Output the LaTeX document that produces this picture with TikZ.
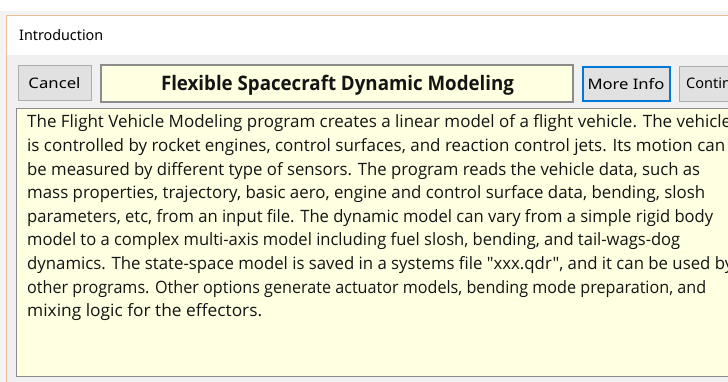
\documentclass[tikz,border=0pt]{standalone}
\usepackage{fontspec}
\usepackage{graphicx}
\setmainfont{Open Sans}
\newfontfamily\uifont{Noto Sans}
\newfontfamily\bodyfont{Open Sans}
\newcommand{\fitw}[2]{\resizebox{#1}{\height}{#2}}
\definecolor{outerbg}{HTML}{F3F3F3}
\definecolor{winbg}{HTML}{F0F0F0}
\definecolor{winborder}{HTML}{E9BE92}
\definecolor{btnfill}{HTML}{E1E1E1}
\definecolor{btnborder}{HTML}{ADADAD}
\definecolor{focusblue}{HTML}{0078D7}
\definecolor{note}{HTML}{FFFFE1}
\definecolor{boxborder}{HTML}{8C8C8C}
\definecolor{txt}{HTML}{141414}
\tikzset{
  btn/.style={draw=btnborder, fill=btnfill, line width=1pt, inner sep=0pt,
    minimum height=35pt, font=\uifont\fontsize{14.5}{17}\selectfont, text=black},
  notebox/.style={draw=boxborder, fill=note, line width=1.2pt, inner sep=0pt},
  bodyline/.style={anchor=base west, inner sep=0pt,
    font=\bodyfont\fontsize{17}{20}\selectfont, text=txt},
}
\begin{document}
\begin{tikzpicture}[x=1pt,y=-1pt]
\useasboundingbox (0,0) rectangle (728,382);
\clip (0,0) rectangle (728,382);
% outer background and window
\fill[outerbg] (0,0) rectangle (728,382);
\fill[white] (0,0) rectangle (728,11);
\fill[winbg] (6,15) rectangle (728,382);
\fill[white] (7,16) rectangle (728,55);
\draw[winborder, line width=1.6pt] (6.5,382) -- (6.5,15.5) -- (728,15.5);
% title bar
\node[anchor=base west, inner sep=0pt, font=\uifont\fontsize{14.5}{17}\selectfont] (intro) at (19,41) {\fitw{84pt}{Introduction}};
% buttons row
\node[btn, minimum width=73pt] (cancel) at (54.5,83.5) {\fitw{52pt}{Cancel}};
\node[notebox, minimum width=472pt, minimum height=37pt] (titlebox) at (337,83.5) {};
\node[anchor=base, inner sep=0pt, font=\bodyfont\bfseries\fontsize{20}{24}\selectfont, text=txt] (titletxt) at (337.5,90.5) {\fitw{353pt}{Flexible Spacecraft Dynamic Modeling}};
\node[btn, draw=focusblue, line width=2pt, minimum width=87pt, minimum height=34pt] (moreinfo) at (626,84) {\fitw{77pt}{More Info}};
\node[btn, minimum width=88pt, anchor=west] (continue) at (679,84) {};
\node[anchor=base west, inner sep=0pt, font=\uifont\fontsize{14.5}{17}\selectfont] (conttxt) at (686,89) {Continue};
% text area
\node[notebox, anchor=north west, minimum width=740pt, minimum height=268pt] (textarea) at (16,108) {};
\node[bodyline] (l1) at (27,128.0) {\fitw{704pt}{The Flight Vehicle Modeling program creates a linear model of a flight vehicle. The vehicle}};
\node[bodyline] (l2) at (27,151.6) {\fitw{698pt}{is controlled by rocket engines, control surfaces, and reaction control jets. Its motion can}};
\node[bodyline] (l3) at (27,175.2) {\fitw{673pt}{be measured by different type of sensors. The program reads the vehicle data, such as}};
\node[bodyline] (l4) at (27,198.8) {\fitw{678pt}{mass properties, trajectory, basic aero, engine and control surface data, bending, slosh}};
\node[bodyline] (l5) at (27,222.4) {\fitw{686pt}{parameters, etc, from an input file. The dynamic model can vary from a simple rigid body}};
\node[bodyline] (l6) at (27,246.0) {\fitw{653pt}{model to a complex multi-axis model including fuel slosh, bending, and tail-wags-dog}};
\node[bodyline] (l7) at (27,269.6) {\fitw{706pt}{dynamics. The state-space model is saved in a systems file "xxx.qdr", and it can be used by}};
\node[bodyline] (l8) at (27,293.2) {\fitw{679pt}{other programs. Other options generate actuator models, bending mode preparation, and}};
\node[bodyline] (l9) at (27,316.8) {\fitw{235pt}{mixing logic for the effectors.}};
\end{tikzpicture}
\end{document}
